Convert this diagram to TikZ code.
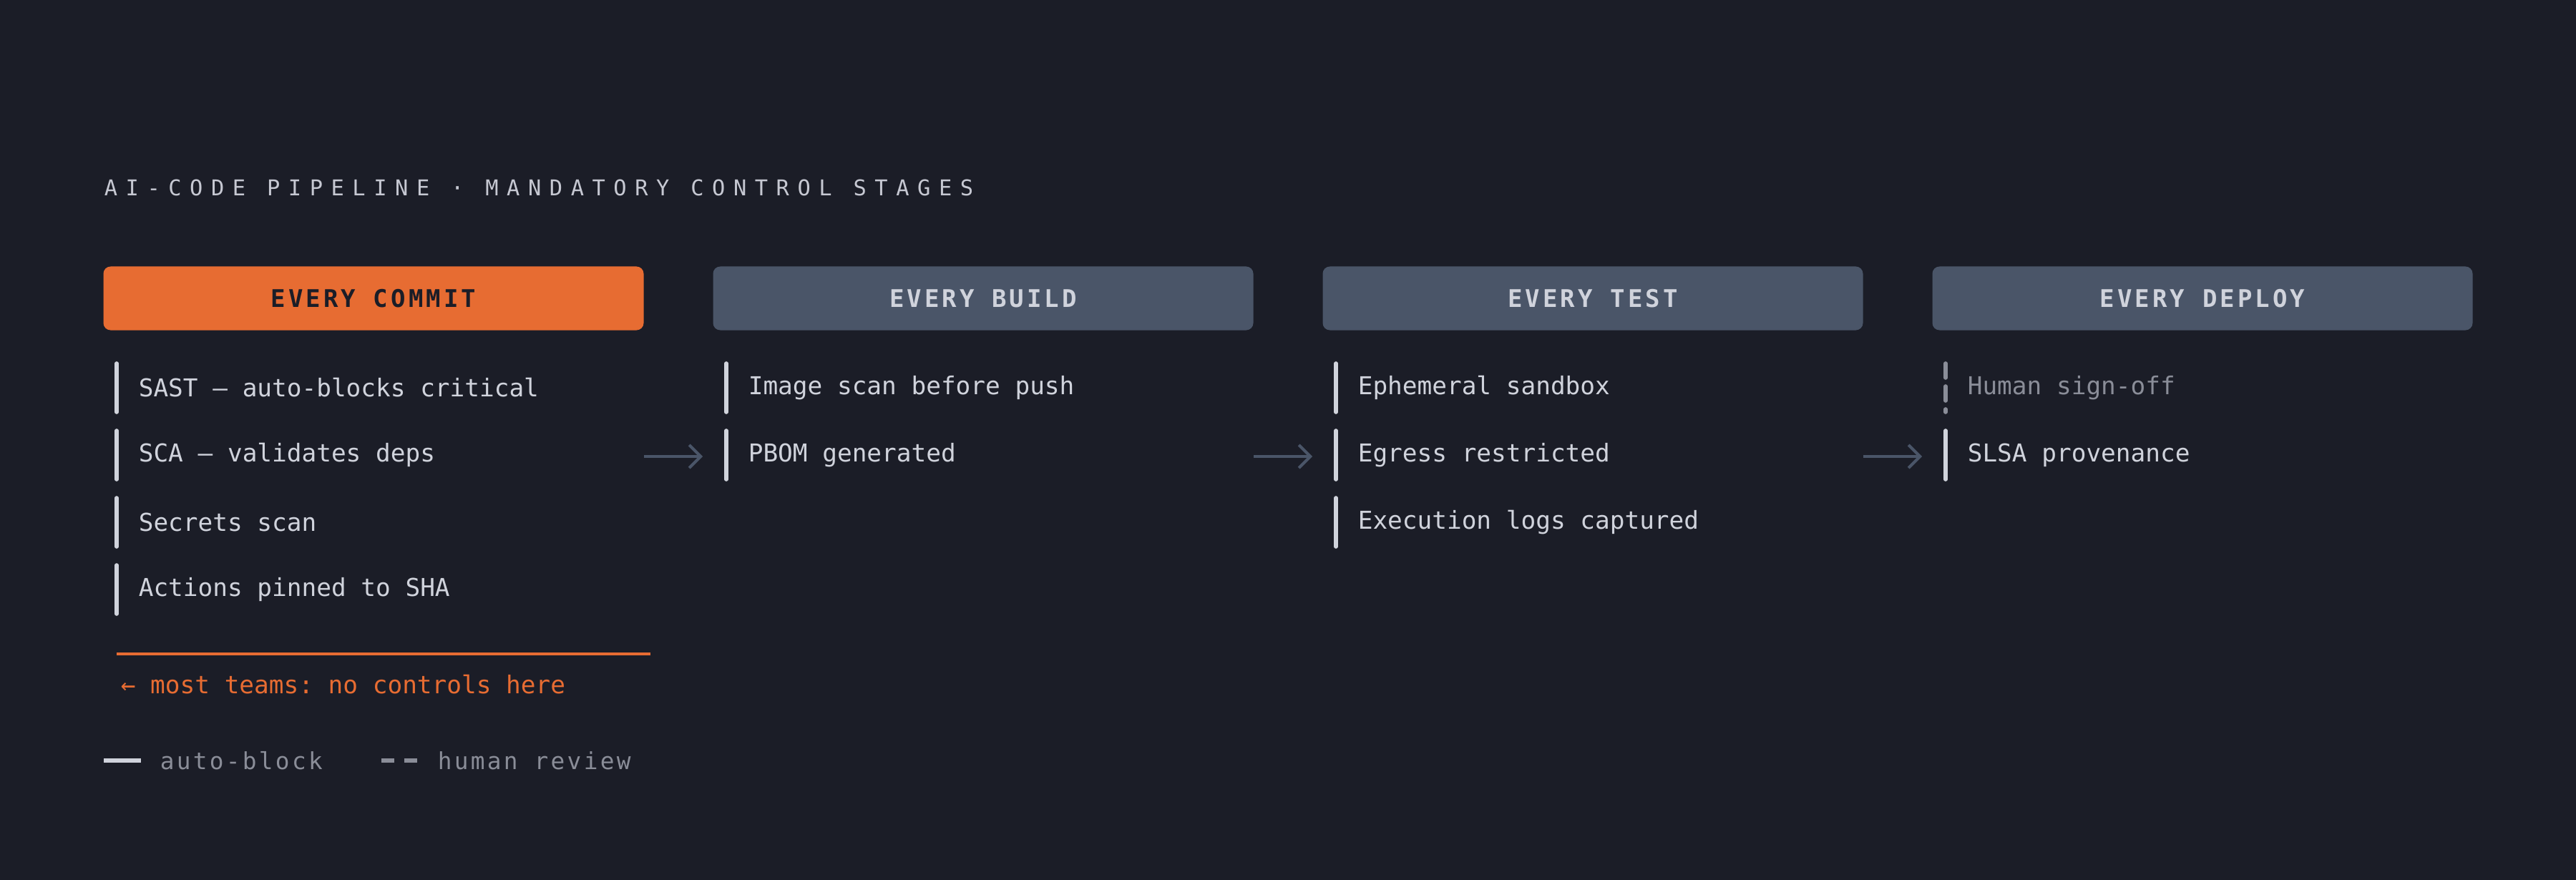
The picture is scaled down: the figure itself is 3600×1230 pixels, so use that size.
\documentclass[tikz,border=0pt]{standalone}
\usepackage{fontspec}
\setmonofont{DejaVu Sans Mono}
\usetikzlibrary{arrows.meta}
\usetikzlibrary{positioning}
\definecolor{bgdark}{HTML}{1B1D27}
\definecolor{accent}{HTML}{E76C32}
\definecolor{slate}{HTML}{4A5568}
\definecolor{itemtext}{HTML}{D0D3DC}
\definecolor{mutedtext}{HTML}{8A8D98}
\newfontfamily\titlefont{DejaVu Sans Mono}[LetterSpace=38]
\newfontfamily\headfont{DejaVu Sans Mono}[LetterSpace=12]
\newfontfamily\legendfont{DejaVu Sans Mono}[LetterSpace=10]
\tikzset{
    stage/.style={rounded corners=2.5pt, minimum width=188.75pt, minimum height=22.25pt,
        inner sep=0pt, font=\headfont\bfseries\fontsize{8.5}{10}\selectfont},
    item/.style={anchor=west, inner sep=0pt, text=itemtext, font=\ttfamily\fontsize{8.6}{10}\selectfont},
    bar/.style={draw=itemtext, line width=1.4pt, line cap=round},
    flow/.style={draw=slate, line width=1pt, -{Straight Barb[length=4pt,width=8pt]}}
}
\begin{document}
\begin{tikzpicture}[x=0.25pt, y=-0.25pt]
                \fill[bgdark] (0,0) rectangle (3600,1230);
                \useasboundingbox (0,0) rectangle (3600,1230);
                
                % Title
                \node[anchor=west, inner sep=0pt, text=itemtext!85!mutedtext,
                    font=\titlefont\fontsize{7.6}{9}\selectfont] (title) at (145,262)
                    {AI-CODE PIPELINE · MANDATORY CONTROL STAGES};
                
                % Stage headers
                \node[stage, fill=accent, text=bgdark] (commit) at (522,417) {EVERY COMMIT};
                \node[stage, fill=slate, text=itemtext] (build) at (1374,417) {EVERY BUILD};
                \node[stage, fill=slate, text=itemtext] (test) at (2226,417) {EVERY TEST};
                \node[stage, fill=slate, text=itemtext] (deploy) at (3078,417) {EVERY DEPLOY};
                
                % Commit controls
                \draw[bar] (163,508) -- (163,576);
                \node[item] (sast) at (193,542) {SAST — auto-blocks critical};
                \draw[bar] (163,602) -- (163,670);
                \node[item] (sca) at (193,636) {SCA — validates deps};
                \draw[bar] (163,696) -- (163,764);
                \node[item] (secrets) at (193,730) {Secrets scan};
                \draw[bar] (163,790) -- (163,858);
                \node[item] (pinned) at (193,824) {Actions pinned to SHA};
                
                % Build controls
                \draw[bar] (1015,508) -- (1015,576);
                \node[item] (imgscan) at (1045,542) {Image scan before push};
                \draw[bar] (1015,602) -- (1015,670);
                \node[item] (pbom) at (1045,636) {PBOM generated};
                
                % Test controls
                \draw[bar] (1867,508) -- (1867,576);
                \node[item] (sandbox) at (1897,542) {Ephemeral sandbox};
                \draw[bar] (1867,602) -- (1867,670);
                \node[item] (egress) at (1897,636) {Egress restricted};
                \draw[bar] (1867,696) -- (1867,764);
                \node[item] (logs) at (1897,730) {Execution logs captured};
                
                % Deploy controls
                \draw[bar, draw=mutedtext, dash pattern=on 5pt off 3pt] (2719,508) -- (2719,576);
                \node[item, text=mutedtext] (signoff) at (2749,542) {Human sign-off};
                \draw[bar] (2719,602) -- (2719,670);
                \node[item] (slsa) at (2749,636) {SLSA provenance};
                
                % Flow arrows
                \coordinate (a1) at (900,638);
                \coordinate (a2) at (1752,638);
                \coordinate (a3) at (2604,638);
                \draw[flow] (a1) -- ++(82,0);
                \draw[flow] (a2) -- ++(82,0);
                \draw[flow] (a3) -- ++(82,0);
                
                % Warning note
                \coordinate (warnl) at (163,914);
                \coordinate (warnr) at (909,914);
                \draw[accent, line width=1pt] (warnl) -- (warnr);
                \node[anchor=west, inner sep=0pt, text=accent,
                    font=\ttfamily\fontsize{8.6}{10}\selectfont] (warn) at (168,957)
                    {← most teams: no controls here};
                
                % Legend
                \coordinate (autol) at (145,1063);
                \coordinate (humanl) at (533,1063);
                \draw[itemtext, line width=1.4pt] (autol) -- ++(52,0);
                \node[anchor=west, inner sep=0pt, text=mutedtext,
                    font=\legendfont\fontsize{8.2}{10}\selectfont] (autotext) at (223,1063) {auto-block};
                \draw[mutedtext, line width=1.4pt, dash pattern=on 4.5pt off 3.5pt] (humanl) -- ++(52,0);
                \node[anchor=west, inner sep=0pt, text=mutedtext,
                    font=\legendfont\fontsize{8.2}{10}\selectfont] (humantext) at (611,1063) {human review};
            \end{tikzpicture}
\end{document}
